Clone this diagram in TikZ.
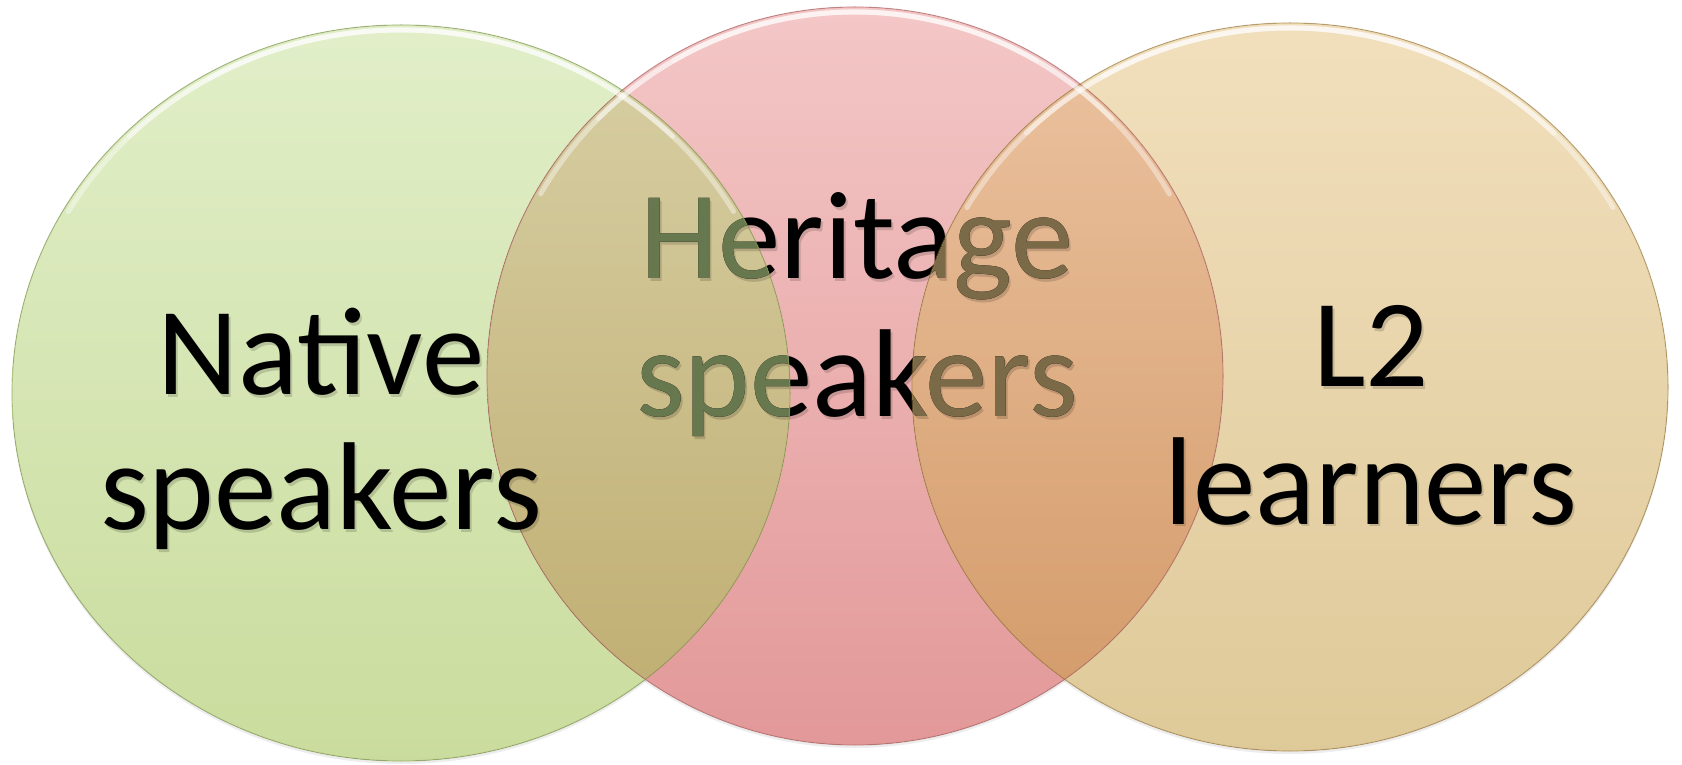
\documentclass[tikz,border=0pt]{standalone}
\usepackage{fontspec}
\setmainfont{Carlito}
\definecolor{gtop}{RGB}{226,239,202}
\definecolor{gbot}{RGB}{202,220,157}
\definecolor{gedge}{RGB}{140,165,85}
\definecolor{ptop}{RGB}{244,199,199}
\definecolor{pbot}{RGB}{226,151,151}
\definecolor{pedge}{RGB}{185,105,105}
\definecolor{ttop}{RGB}{242,224,190}
\definecolor{tbot}{RGB}{222,201,152}
\definecolor{tedge}{RGB}{170,135,70}
\definecolor{otop}{RGB}{216,208,166}
\definecolor{obot}{RGB}{190,172,110}
\definecolor{rtop}{RGB}{236,196,162}
\definecolor{rbot}{RGB}{210,152,102}
\definecolor{otext}{RGB}{104,120,78}
\definecolor{rtext}{RGB}{122,106,72}
\begin{document}
\begin{tikzpicture}[x=1pt,y=1pt,
  lbl/.style={anchor=base,inner sep=0pt,font=\fontsize{125}{136}\selectfont,text=black},
  shd/.style={anchor=base,inner sep=0pt,font=\fontsize{125}{136}\selectfont,text=black,text opacity=0.15},
  hl/.style={draw=white,line width=5pt,line cap=round,draw opacity=0.4},
  edge/.style={line width=1.2pt,draw opacity=0.5},
  drop/.style={fill=black,fill opacity=0.07}
]
\useasboundingbox (0,0) rectangle (1682,764);
\coordinate (L) at (401,371);
\coordinate (M) at (855,388);
\coordinate (R) at (1290,377);
\coordinate (BL) at (0,0);
\coordinate (TR) at (1682,764);
% soft drop shadows
\fill[drop] ([yshift=-3]L) ellipse[x radius=389,y radius=368];
\fill[drop] ([yshift=-3]M) ellipse[x radius=368,y radius=369];
\fill[drop] ([yshift=-3]R) ellipse[x radius=378,y radius=364];
% circle fills
\begin{scope}
  \clip (L) ellipse[x radius=389,y radius=368];
  \fill[top color=gtop,bottom color=gbot] (BL) rectangle (TR);
\end{scope}
\begin{scope}
  \clip (M) ellipse[x radius=368,y radius=369];
  \fill[top color=ptop,bottom color=pbot] (BL) rectangle (TR);
\end{scope}
\begin{scope}
  \clip (R) ellipse[x radius=378,y radius=364];
  \fill[top color=ttop,bottom color=tbot] (BL) rectangle (TR);
\end{scope}
% overlaps
\begin{scope}
  \clip (L) ellipse[x radius=389,y radius=368];
  \clip (M) ellipse[x radius=368,y radius=369];
  \fill[top color=otop,bottom color=obot] (BL) rectangle (TR);
\end{scope}
\begin{scope}
  \clip (M) ellipse[x radius=368,y radius=369];
  \clip (R) ellipse[x radius=378,y radius=364];
  \fill[top color=rtop,bottom color=rbot] (BL) rectangle (TR);
\end{scope}
% middle text (partly seen through the side circles)
\node[shd] (her1s) at (859,482) {Heritage};
\node[shd] (her2s) at (859,344) {speakers};
\node[lbl] (her1) at (857,485) {Heritage};
\node[lbl] (her2) at (857,347) {speakers};
\begin{scope}
  \clip (L) ellipse[x radius=389,y radius=368];
  \node[lbl,text=otext] (her1g) at (857,485) {Heritage};
  \node[lbl,text=otext] (her2g) at (857,347) {speakers};
\end{scope}
\begin{scope}
  \clip (R) ellipse[x radius=378,y radius=364];
  \node[lbl,text=rtext] (her1r) at (857,485) {Heritage};
  \node[lbl,text=rtext] (her2r) at (857,347) {speakers};
\end{scope}
% edges
\draw[edge,draw=pedge] (M) ellipse[x radius=368,y radius=369];
\draw[edge,draw=gedge] (L) ellipse[x radius=389,y radius=368];
\draw[edge,draw=tedge] (R) ellipse[x radius=378,y radius=364];
% glossy highlights
\foreach \a/\b in {30/150,45/135,60/120}{
  \draw[hl] ([shift={(\a:384 and 363)}]L) arc[start angle=\a,end angle=\b,x radius=384,y radius=363];
  \draw[hl] ([shift={(\a:363 and 364)}]M) arc[start angle=\a,end angle=\b,x radius=363,y radius=364];
  \draw[hl] ([shift={(\a:373 and 359)}]R) arc[start angle=\a,end angle=\b,x radius=373,y radius=359];
}
% left and right texts
\node[shd] (nat1s) at (323,366) {Native};
\node[shd] (nat2s) at (323,232) {speakers};
\node[lbl] (nat1) at (321,369) {Native};
\node[lbl] (nat2) at (321,235) {speakers};
\node[shd] (l2as) at (1373,374) {L2};
\node[shd] (l2bs) at (1373,237) {learners};
\node[lbl] (l2a) at (1371,377) {L2};
\node[lbl] (l2b) at (1371,240) {learners};
\end{tikzpicture}
\end{document}
